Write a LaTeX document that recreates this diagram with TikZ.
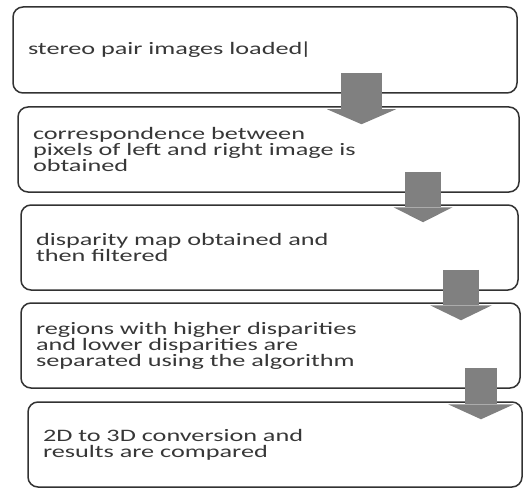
\documentclass[tikz,border=0pt]{standalone}
\usepackage{fontspec}
\setmainfont{Carlito}[FakeStretch=1.5]
\usetikzlibrary{arrows.meta, positioning, calc}
\definecolor{boxgray}{RGB}{50,50,50}
\definecolor{textgray}{RGB}{55,55,55}
\definecolor{arrowgray}{RGB}{128,128,128}
\protected\def\stepfont{\fontsize{17.5}{16}\selectfont\lineskiplimit-20pt\relax}

\begin{document}
\begin{tikzpicture}[
    x=1pt, y=1pt,
    stepbox/.style={draw=boxgray, line width=1.5pt, rounded corners=10pt,
      minimum height=85pt, inner xsep=15pt, inner ysep=0pt, align=left,
      text=textgray, font=\stepfont},
    blockarrow/.style={draw=arrowgray}
]
\useasboundingbox (0,0) rectangle (524,488);

% the five steps
\node[stepbox, text width=474pt, minimum height=86pt] (node1) at (265,438)
  {stereo pair images loaded\kern-2.5pt|};
\node[stepbox, text width=471pt] (node2) at (268.5,338.5)
  {correspondence between\\pixels of left and right image is\\obtained};
\node[stepbox, text width=467pt] (node3) at (269.5,240.5)
  {disparity map obtained and\\then filtered};
\node[stepbox, text width=469pt] (node4) at (270.5,142.5)
  {regions with higher disparities\\and lower disparities are\\separated using the algorithm};
\node[stepbox, text width=464pt] (node5) at (275,43.5)
  {2D to 3D conversion and\\results are compared};

% grey block arrows between the steps
\foreach \i/\j/\x/\w/\h in {1/2/361.5/41/69, 2/3/423/36/59, 3/4/461/36/62, 4/5/481/32/66} {
    \coordinate (col\i) at (\x,0);
    \draw[blockarrow, line width=\w pt,
      -{Triangle[length=15pt, width=\h pt, line width=0pt]}]
      ([yshift=21pt]node\i.south -| col\i) -- ([yshift=-18pt]node\j.north -| col\i);
}

\end{tikzpicture}
\end{document}
